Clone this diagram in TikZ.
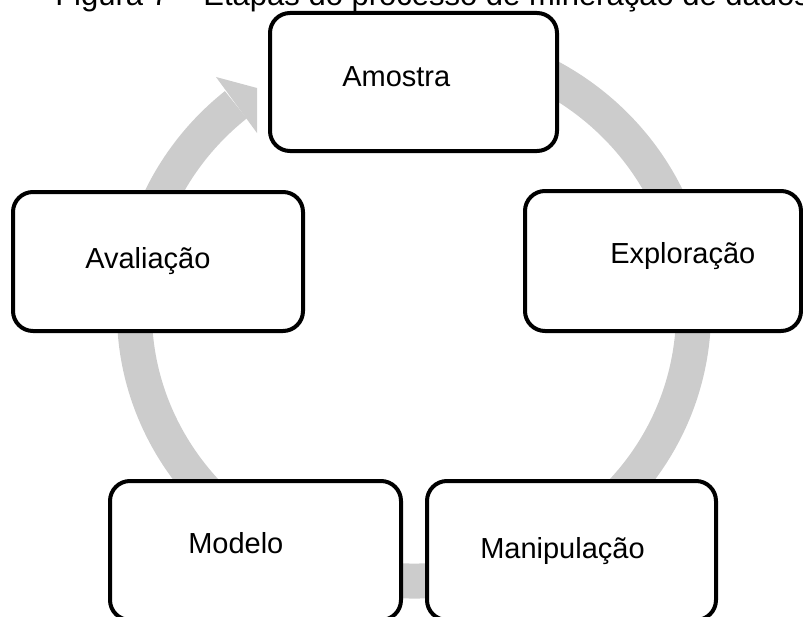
\documentclass[tikz,border=0pt]{standalone}
\usepackage{fontspec}
\setmainfont{Liberation Sans}
\definecolor{ringgray}{RGB}{204,204,204}
\tikzset{
  stagebox/.style={draw=black, fill=white, line width=3pt, rounded corners=15pt, inner sep=0pt},
  stagetext/.style={anchor=base west, inner sep=0pt, font=\fontsize{21.75pt}{26pt}\selectfont},
  ring/.style={draw=ringgray, line width=26.25pt, line cap=butt},
}
\begin{document}
\begin{tikzpicture}[x=0.75pt, y=-0.75pt]
\useasboundingbox (0,0) rectangle (803,617);
\begin{scope}
\clip (0,0) rectangle (803,617);
% title (cut at top)
\node[anchor=base west, inner sep=0pt, font=\fontsize{23.25pt}{28pt}\selectfont] (title) at (55,6) {Figura 7 – Etapas do processo de minera\c{c}\~ao de dados};
% cycle ring with arrow
\coordinate (c) at (414,312);
\draw[ring] (c) ++(-80:279.5 and 269) arc[start angle=-80, end angle=230.4, x radius=279.5, y radius=269];
\fill[ringgray] (216,77) -- (257,88) -- (257,133) -- cycle;
% boxes
\node[stagebox, minimum width=215.25pt, minimum height=103.5pt] (amostra) at (413.5,82) {};
\node[stagebox, minimum width=217.5pt, minimum height=104.25pt] (avaliacao) at (158,261.5) {};
\node[stagebox, minimum width=207pt, minimum height=105pt] (exploracao) at (663,261) {};
\node[stagebox, minimum width=218.25pt, minimum height=104.25pt] (modelo) at (255.5,550.5) {};
\node[stagebox, minimum width=216.75pt, minimum height=104.25pt] (manipulacao) at (571.5,550.5) {};
% labels
\node[stagetext] (t-amostra) at (342,87) {Amostra};
\node[stagetext] (t-avaliacao) at (85,268) {Avaliação};
\node[stagetext] (t-exploracao) at (610,263) {Exploração};
\node[stagetext] (t-modelo) at (188,553) {Modelo};
\node[stagetext] (t-manipulacao) at (480,558) {Manipulação};
\end{scope}
\end{tikzpicture}
\end{document}
